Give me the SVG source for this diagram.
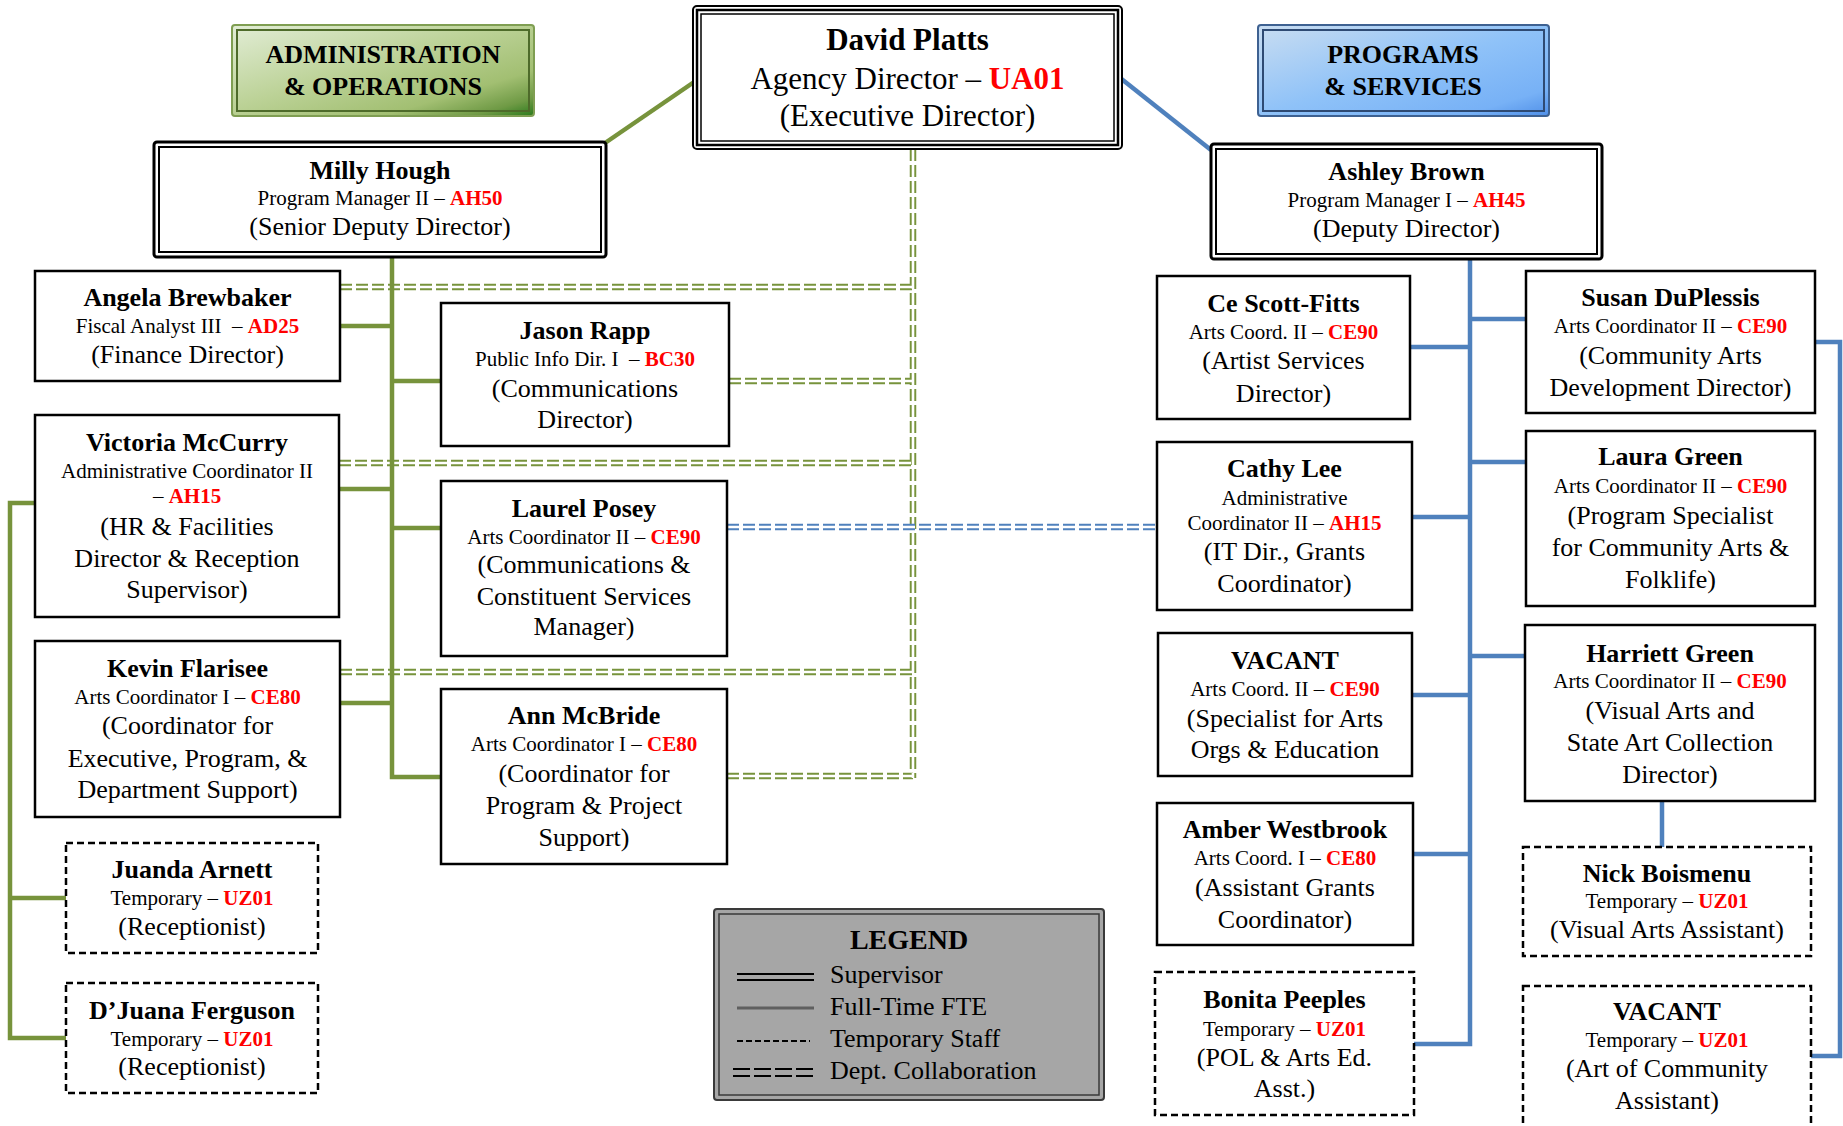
<svg xmlns="http://www.w3.org/2000/svg" width="1843" height="1126" viewBox="0 0 1843 1126">
<defs>
<linearGradient id="gAdm" x1="0" y1="0" x2="1" y2="1">
<stop offset="0" stop-color="#e2edd6"/>
<stop offset="0.45" stop-color="#bcd297"/>
<stop offset="0.75" stop-color="#a2bf72"/>
<stop offset="0.9" stop-color="#6f9a45"/>
<stop offset="1" stop-color="#2a7a1c"/>
</linearGradient>
<linearGradient id="gPrg" x1="0" y1="0" x2="1" y2="1">
<stop offset="0" stop-color="#c9ddf1"/>
<stop offset="0.5" stop-color="#8fc2f8"/>
<stop offset="0.85" stop-color="#77b1f6"/>
<stop offset="1" stop-color="#4f8fe8"/>
</linearGradient>
</defs>
<style>
text{font-family:"Liberation Serif","Times New Roman",serif;fill:#000;text-anchor:middle}
.n{font-size:26px;font-weight:bold}
.t{font-size:21px}
.r{font-size:26px}
.c{fill:#ff0000;font-weight:bold}
.hd{font-size:26px;font-weight:bold}
.box{fill:#fff;stroke:#000;stroke-width:2.5}
.tmp{fill:#fff;stroke:#000;stroke-width:2.5;stroke-dasharray:7 4}
.gs{fill:none;stroke:#77933c;stroke-width:4.5}
.bs{fill:none;stroke:#4f81bd;stroke-width:4.5}
.gdo{fill:none;stroke:#77933c;stroke-width:6.5;stroke-dasharray:12 4}
.bdo{fill:none;stroke:#4f81bd;stroke-width:6.5;stroke-dasharray:12 4}
.din{fill:none;stroke:#fff;stroke-width:2.6;stroke-dasharray:12 4}
.lt{text-anchor:start;font-size:26px}
</style>

<g id="connectors">
<!-- collaboration (double dashed) -->
<path class="gdo" d="M340,287H913M729,381H913M339,463H913M340,672H913M727,776H913M913,149V778"/>
<path class="din" d="M340,287H913M729,381H913M339,463H913M340,672H913M727,776H913M913,149V778"/>
<path class="bdo" d="M727,527H1156"/>
<path class="din" d="M727,527H1156"/>
<!-- supervisor lines -->
<path class="gs" d="M697,80L605,143"/>
<path class="bs" d="M1119,77L1211,150"/>
<path class="gs" d="M392,257V777H441M340,326H392M392,381H441M339,489H392M392,528H441M340,703H392"/>
<path class="gs" d="M35,503H10V1038H66M10,898H66"/>
<path class="bs" d="M1470,259V1044H1414M1470,319H1526M1410,347H1470M1470,462H1526M1412,517H1470M1470,656H1525M1412,695H1470M1413,854H1470"/>
<path class="bs" d="M1815,342H1840V1056H1811"/>
<path class="bs" d="M1662,801V847"/>
</g>

<g id="hdr-admin">
<rect x="232" y="25" width="302" height="91" rx="3" fill="url(#gAdm)" stroke="#7f9e52" stroke-width="2"/>
<rect x="237" y="30" width="292" height="81" fill="none" stroke="#4e6b2a" stroke-width="2"/>
<text class="hd" x="383" y="63">ADMINISTRATION</text>
<text class="hd" x="383" y="95">&amp; OPERATIONS</text>
</g>

<g id="hdr-programs">
<rect x="1258" y="25" width="291" height="91" rx="3" fill="url(#gPrg)" stroke="#3e6191" stroke-width="2"/>
<rect x="1263" y="30" width="281" height="81" fill="none" stroke="#2e4a73" stroke-width="2"/>
<text class="hd" x="1403" y="63">PROGRAMS</text>
<text class="hd" x="1403" y="95">&amp; SERVICES</text>
</g>

<g id="david-platts">
<rect x="693" y="6" width="429" height="143" rx="4" fill="#fff" stroke="#000" stroke-width="2"/>
<rect x="697" y="10" width="421" height="135" fill="none" stroke="#000" stroke-width="2.5"/>
<rect x="701" y="14" width="413" height="127" fill="none" stroke="#000" stroke-width="1.5"/>
<text x="907.5" y="50" style="font-size:31px;font-weight:bold">David Platts</text>
<text x="907.5" y="89" style="font-size:31px">Agency Director – <tspan class="c">UA01</tspan></text>
<text x="907.5" y="126" style="font-size:31px">(Executive Director)</text>
</g>

<g id="milly-hough">
<rect x="154" y="142" width="452" height="115" rx="3" fill="#fff" stroke="#000" stroke-width="3"/>
<rect x="159" y="147" width="442" height="105" fill="none" stroke="#000" stroke-width="2"/>
<text class="n" x="380" y="179">Milly Hough</text>
<text class="t" x="380" y="205">Program Manager II – <tspan class="c">AH50</tspan></text>
<text class="r" x="380" y="235">(Senior Deputy Director)</text>
</g>

<g id="ashley-brown">
<rect x="1211" y="144" width="391" height="115" rx="3" fill="#fff" stroke="#000" stroke-width="3"/>
<rect x="1216" y="149" width="381" height="105" fill="none" stroke="#000" stroke-width="2"/>
<text class="n" x="1406.5" y="180">Ashley Brown</text>
<text class="t" x="1406.5" y="207">Program Manager I – <tspan class="c">AH45</tspan></text>
<text class="r" x="1406.5" y="237">(Deputy Director)</text>
</g>

<g id="angela-brewbaker">
<rect class="box" x="35" y="271" width="305" height="110"/>
<text class="n" x="187.5" y="306">Angela Brewbaker</text>
<text class="t" x="187.5" y="333">Fiscal Analyst III&#160; – <tspan class="c">AD25</tspan></text>
<text class="r" x="187.5" y="363">(Finance Director)</text>
</g>

<g id="victoria-mccurry">
<rect class="box" x="35" y="415" width="304" height="202"/>
<text class="n" x="187" y="451">Victoria McCurry</text>
<text class="t" x="187" y="478">Administrative Coordinator II</text>
<text class="t" x="187" y="503">– <tspan class="c">AH15</tspan></text>
<text class="r" x="187" y="535">(HR &amp; Facilities</text>
<text class="r" x="187" y="567">Director &amp; Reception</text>
<text class="r" x="187" y="598">Supervisor)</text>
</g>

<g id="kevin-flarisee">
<rect class="box" x="35" y="641" width="305" height="176"/>
<text class="n" x="187.5" y="677">Kevin Flarisee</text>
<text class="t" x="187.5" y="704">Arts Coordinator I – <tspan class="c">CE80</tspan></text>
<text class="r" x="187.5" y="734">(Coordinator for</text>
<text class="r" x="187.5" y="767">Executive, Program, &amp;</text>
<text class="r" x="187.5" y="798">Department Support)</text>
</g>

<g id="juanda-arnett">
<rect class="tmp" x="66" y="843" width="252" height="110"/>
<text class="n" x="192" y="878">Juanda Arnett</text>
<text class="t" x="192" y="905">Temporary – <tspan class="c">UZ01</tspan></text>
<text class="r" x="192" y="935">(Receptionist)</text>
</g>

<g id="djuana-ferguson">
<rect class="tmp" x="66" y="983" width="252" height="110"/>
<text class="n" x="192" y="1019">D’Juana Ferguson</text>
<text class="t" x="192" y="1046">Temporary – <tspan class="c">UZ01</tspan></text>
<text class="r" x="192" y="1075">(Receptionist)</text>
</g>

<g id="jason-rapp">
<rect class="box" x="441" y="303" width="288" height="143"/>
<text class="n" x="585" y="339">Jason Rapp</text>
<text class="t" x="585" y="366">Public Info Dir. I&#160; – <tspan class="c">BC30</tspan></text>
<text class="r" x="585" y="397">(Communications</text>
<text class="r" x="585" y="428">Director)</text>
</g>

<g id="laurel-posey">
<rect class="box" x="441" y="481" width="286" height="175"/>
<text class="n" x="584" y="517">Laurel Posey</text>
<text class="t" x="584" y="544">Arts Coordinator II – <tspan class="c">CE90</tspan></text>
<text class="r" x="584" y="573">(Communications &amp;</text>
<text class="r" x="584" y="605">Constituent Services</text>
<text class="r" x="584" y="635">Manager)</text>
</g>

<g id="ann-mcbride">
<rect class="box" x="441" y="689" width="286" height="175"/>
<text class="n" x="584" y="724">Ann McBride</text>
<text class="t" x="584" y="751">Arts Coordinator I – <tspan class="c">CE80</tspan></text>
<text class="r" x="584" y="782">(Coordinator for</text>
<text class="r" x="584" y="814">Program &amp; Project</text>
<text class="r" x="584" y="846">Support)</text>
</g>

<g id="legend">
<rect x="714" y="909" width="390" height="191" rx="3" fill="#a6a6a6" stroke="#3a3a3a" stroke-width="2"/>
<rect x="719" y="914" width="380" height="181" fill="none" stroke="#3a3a3a" stroke-width="1.5"/>
<text x="909" y="949" style="font-size:28px;font-weight:bold">LEGEND</text>
<path d="M737,974H814M737,980H814" stroke="#000" stroke-width="2.2" fill="none"/>
<path d="M737,1008H814" stroke="#5f5f5f" stroke-width="2.8" fill="none"/>
<path d="M737,1041H810" stroke="#000" stroke-width="2.2" stroke-dasharray="6 3" fill="none"/>
<path d="M733,1069H814M733,1076H814" stroke="#000" stroke-width="2.2" stroke-dasharray="17 4" fill="none"/>
<text class="lt" x="830" y="983">Supervisor</text>
<text class="lt" x="830" y="1015">Full-Time FTE</text>
<text class="lt" x="830" y="1047">Temporary Staff</text>
<text class="lt" x="830" y="1079">Dept. Collaboration</text>
</g>

<g id="ce-scott-fitts">
<rect class="box" x="1157" y="276" width="253" height="143"/>
<text class="n" x="1283.5" y="312">Ce Scott-Fitts</text>
<text class="t" x="1283.5" y="339">Arts Coord. II – <tspan class="c">CE90</tspan></text>
<text class="r" x="1283.5" y="369">(Artist Services</text>
<text class="r" x="1283.5" y="402">Director)</text>
</g>

<g id="cathy-lee">
<rect class="box" x="1157" y="442" width="255" height="168"/>
<text class="n" x="1284.5" y="477">Cathy Lee</text>
<text class="t" x="1284.5" y="505">Administrative</text>
<text class="t" x="1284.5" y="530">Coordinator II – <tspan class="c">AH15</tspan></text>
<text class="r" x="1284.5" y="560">(IT Dir., Grants</text>
<text class="r" x="1284.5" y="592">Coordinator)</text>
</g>

<g id="vacant-arts-coord">
<rect class="box" x="1158" y="633" width="254" height="143"/>
<text class="n" x="1285" y="669">VACANT</text>
<text class="t" x="1285" y="696">Arts Coord. II – <tspan class="c">CE90</tspan></text>
<text class="r" x="1285" y="727">(Specialist for Arts</text>
<text class="r" x="1285" y="758">Orgs &amp; Education</text>
</g>

<g id="amber-westbrook">
<rect class="box" x="1157" y="803" width="256" height="142"/>
<text class="n" x="1285" y="838">Amber Westbrook</text>
<text class="t" x="1285" y="865">Arts Coord. I – <tspan class="c">CE80</tspan></text>
<text class="r" x="1285" y="896">(Assistant Grants</text>
<text class="r" x="1285" y="928">Coordinator)</text>
</g>

<g id="bonita-peeples">
<rect class="tmp" x="1155" y="972" width="259" height="143"/>
<text class="n" x="1284.5" y="1008">Bonita Peeples</text>
<text class="t" x="1284.5" y="1036">Temporary – <tspan class="c">UZ01</tspan></text>
<text class="r" x="1284.5" y="1066">(POL &amp; Arts Ed.</text>
<text class="r" x="1284.5" y="1097">Asst.)</text>
</g>

<g id="susan-duplessis">
<rect class="box" x="1526" y="271" width="289" height="142"/>
<text class="n" x="1670.5" y="306">Susan DuPlessis</text>
<text class="t" x="1670.5" y="333">Arts Coordinator II – <tspan class="c">CE90</tspan></text>
<text class="r" x="1670.5" y="364">(Community Arts</text>
<text class="r" x="1670.5" y="396">Development Director)</text>
</g>

<g id="laura-green">
<rect class="box" x="1526" y="431" width="289" height="175"/>
<text class="n" x="1670.5" y="465">Laura Green</text>
<text class="t" x="1670.5" y="493">Arts Coordinator II – <tspan class="c">CE90</tspan></text>
<text class="r" x="1670.5" y="524">(Program Specialist</text>
<text class="r" x="1670.5" y="556">for Community Arts &amp;</text>
<text class="r" x="1670.5" y="588">Folklife)</text>
</g>

<g id="harriett-green">
<rect class="box" x="1525" y="625" width="290" height="176"/>
<text class="n" x="1670" y="662">Harriett Green</text>
<text class="t" x="1670" y="688">Arts Coordinator II – <tspan class="c">CE90</tspan></text>
<text class="r" x="1670" y="719">(Visual Arts and</text>
<text class="r" x="1670" y="751">State Art Collection</text>
<text class="r" x="1670" y="783">Director)</text>
</g>

<g id="nick-boismenu">
<rect class="tmp" x="1523" y="847" width="288" height="109"/>
<text class="n" x="1667" y="882">Nick Boismenu</text>
<text class="t" x="1667" y="908">Temporary – <tspan class="c">UZ01</tspan></text>
<text class="r" x="1667" y="938">(Visual Arts Assistant)</text>
</g>

<g id="vacant-temp">
<rect class="tmp" x="1523" y="986" width="288" height="160"/>
<text class="n" x="1667" y="1020">VACANT</text>
<text class="t" x="1667" y="1047">Temporary – <tspan class="c">UZ01</tspan></text>
<text class="r" x="1667" y="1077">(Art of Community</text>
<text class="r" x="1667" y="1109">Assistant)</text>
</g>
</svg>
